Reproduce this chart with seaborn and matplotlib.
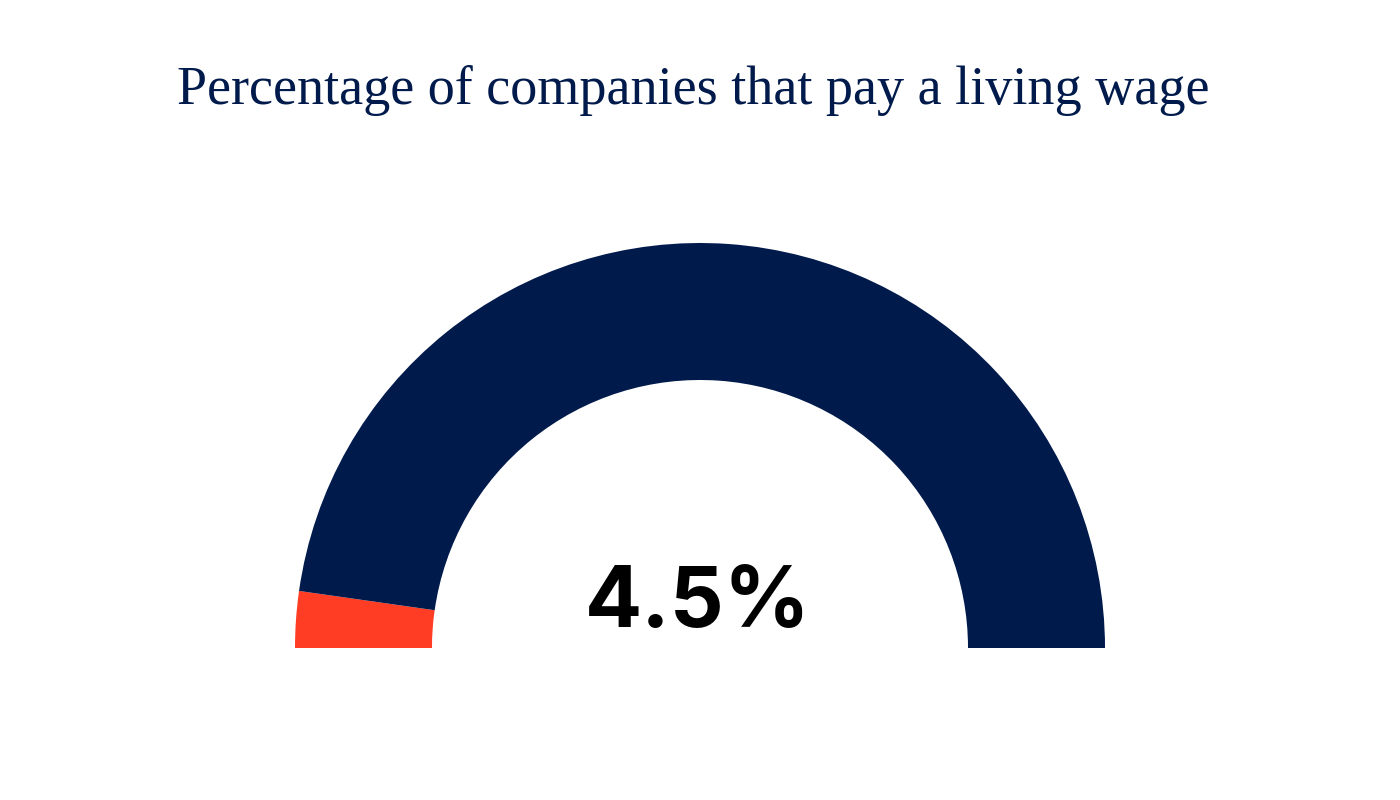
import matplotlib
matplotlib.use("Agg")
import matplotlib.pyplot as plt
import seaborn as sns

sns.set_theme(style="white")

title = "Percentage of companies that pay a living wage"
labels = ["Pay a living wage", "Do not pay a living wage"]
values = [4.5, 95.5]
colors = ["#FF3D24", "#001A4B"]
value_label = "4.5%"

fig = plt.figure(figsize=(14, 8), dpi=100)
ax = fig.add_axes([0, 0, 1, 1])

cx, cy = 700, 800 - 648
outer_r = 405
ring_w = 137

# half donut: the values fill the upper half, a hidden wedge fills the lower half
ax.pie(values + [sum(values)],
       colors=colors + ["none"],
       startangle=180, counterclock=False,
       center=(cx, cy), radius=outer_r, frame=True,
       wedgeprops=dict(width=ring_w, linewidth=0, antialiased=True))

ax.set_xlim(0, 1400)
ax.set_ylim(0, 800)
ax.set_aspect("equal")
ax.axis("off")

ax.text(693, 800 - 104, title, ha="center", va="baseline",
        fontsize=39, color="#001A4B", family=["Liberation Serif", "DejaVu Serif"])
ax.text(698, 800 - 627, value_label, ha="center", va="baseline",
        fontsize=61, fontweight="bold", color="#000000", family=["Inter", "DejaVu Sans"])

fig.savefig("out.png", dpi=100, facecolor="white")
